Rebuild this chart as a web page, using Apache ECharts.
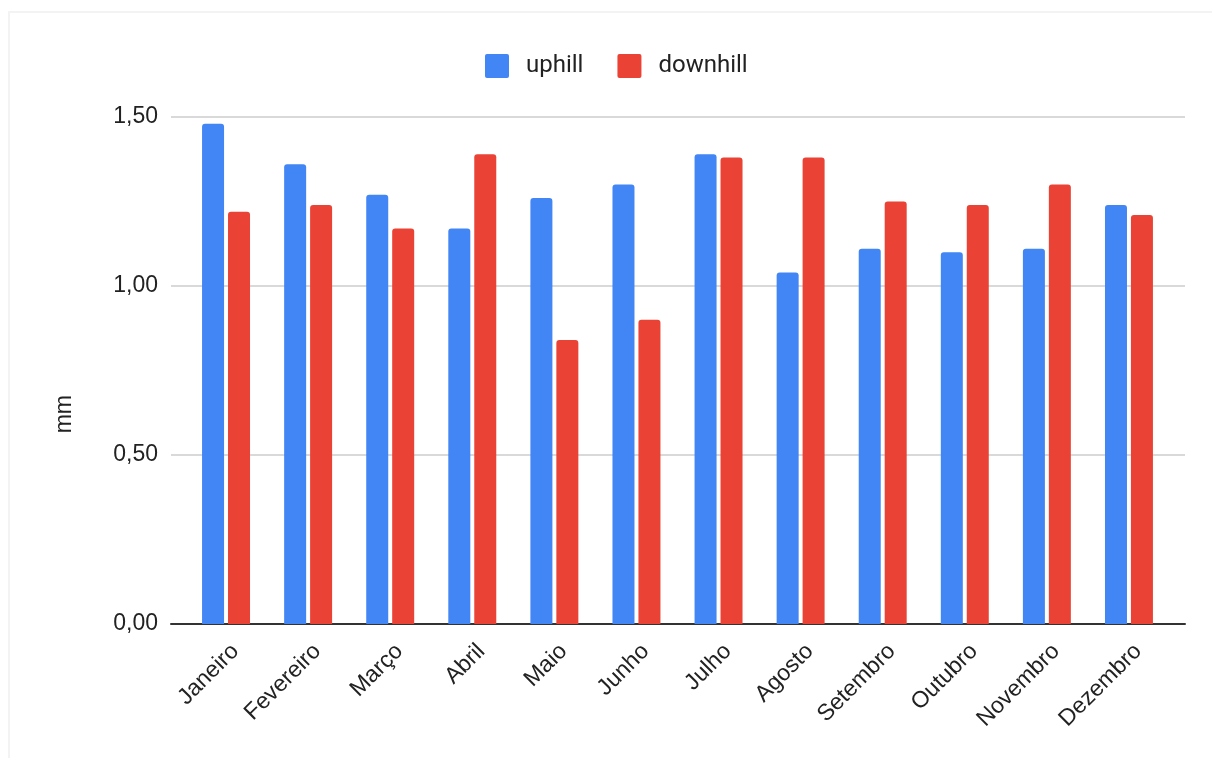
<!DOCTYPE html>
<html>
<head>
<meta charset="utf-8">
<script src="https://cdn.jsdelivr.net/npm/echarts@6/dist/echarts.min.js"></script>
<style>
  html, body { margin: 0; padding: 0; background: #ffffff; }
  #frame {
    position: absolute; left: 8px; top: 11px; width: 1220px; height: 770px;
    border: 2px solid #f3f3f3; box-sizing: border-box;
  }
  #chart { position: absolute; left: 0; top: 0; width: 1212px; height: 758px; }
</style>
</head>
<body>
<div id="frame"></div>
<div id="chart"></div>
<script>
// Monthly wear (mm) for the uphill and downhill sides
const months = ['Janeiro', 'Fevereiro', 'Março', 'Abril', 'Maio', 'Junho',
                'Julho', 'Agosto', 'Setembro', 'Outubro', 'Novembro', 'Dezembro'];
const uphill   = [1.48, 1.36, 1.27, 1.17, 1.26, 1.30, 1.39, 1.04, 1.11, 1.10, 1.11, 1.24];
const downhill = [1.22, 1.24, 1.17, 1.39, 0.84, 0.90, 1.38, 1.38, 1.25, 1.24, 1.30, 1.21];
const yTicks = [0, 0.5, 1.0, 1.5];
const yAxisTitle = 'mm';

const BLUE = '#4285F4';
const RED = '#EA4335';
const TEXT = '#222222';
const FONT = 'Liberation Sans, Arial, sans-serif';
const squareIcon = 'path://M2,0 H22 A2,2 0 0 1 24,2 V22 A2,2 0 0 1 22,24 H2 A2,2 0 0 1 0,22 V2 A2,2 0 0 1 2,0 Z';

const yMin = yTicks[0];
const yMax = yTicks[yTicks.length - 1];
const yStep = yTicks[1] - yTicks[0];
const fmt = v => v.toFixed(2).replace('.', ',');

const chart = echarts.init(document.getElementById('chart'), null, { renderer: 'canvas' });

chart.setOption({
  animation: false,
  backgroundColor: 'transparent',
  textStyle: { fontFamily: FONT },
  legend: {
    left: 485,
    top: 54,
    padding: 0,
    itemWidth: 24,
    itemHeight: 24,
    itemGap: 34,
    icon: squareIcon,
    textStyle: { color: TEXT, fontSize: 24, fontFamily: 'Roboto, sans-serif', padding: [2, 0, 0, 12] },
    data: ['uphill', 'downhill']
  },
  graphic: [{
    type: 'text',
    left: 53,
    top: 395,
    rotation: Math.PI / 2,
    style: { text: yAxisTitle, fill: TEXT, font: '23px ' + FONT }
  }],
  grid: [
    // frame grid: gridlines, value labels and the baseline
    { left: 171, right: 27, top: 117, bottom: 134, containLabel: false },
    // bar grid
    { left: 185, right: 42, top: 117, bottom: 134, containLabel: false }
  ],
  xAxis: [
    {
      gridIndex: 0, type: 'category', data: [''],
      axisLine: { show: true, lineStyle: { color: '#333333', width: 2 } },
      axisTick: { show: false }, axisLabel: { show: false }, splitLine: { show: false }
    },
    {
      gridIndex: 1, type: 'category', data: months,
      axisLine: { show: false }, axisTick: { show: false },
      axisLabel: {
        color: TEXT, fontSize: 23, fontFamily: FONT, rotate: 45, margin: 33,
        interval: 0, padding: [0, -13, 0, 0]
      }
    }
  ],
  yAxis: [
    {
      gridIndex: 0, type: 'value', min: yMin, max: yMax, interval: yStep,
      axisLine: { show: false }, axisTick: { show: false },
      axisLabel: { color: TEXT, fontSize: 23, fontFamily: FONT, margin: 13, formatter: fmt, padding: [3, 0, 0, 0] },
      splitLine: { show: true, lineStyle: { color: '#cccccc', width: 1.5 } }
    },
    {
      gridIndex: 1, type: 'value', min: yMin, max: yMax, interval: yStep,
      axisLine: { show: false }, axisTick: { show: false },
      axisLabel: { show: false }, splitLine: { show: false }
    }
  ],
  series: [
    {
      name: 'uphill', type: 'bar', xAxisIndex: 1, yAxisIndex: 1,
      data: uphill, barWidth: 22, barGap: '18%',
      itemStyle: { color: BLUE, borderRadius: [3, 3, 0, 0] }
    },
    {
      name: 'downhill', type: 'bar', xAxisIndex: 1, yAxisIndex: 1,
      data: downhill, barWidth: 22, barGap: '18%',
      itemStyle: { color: RED, borderRadius: [3, 3, 0, 0] }
    }
  ]
});
</script>
</body>
</html>
